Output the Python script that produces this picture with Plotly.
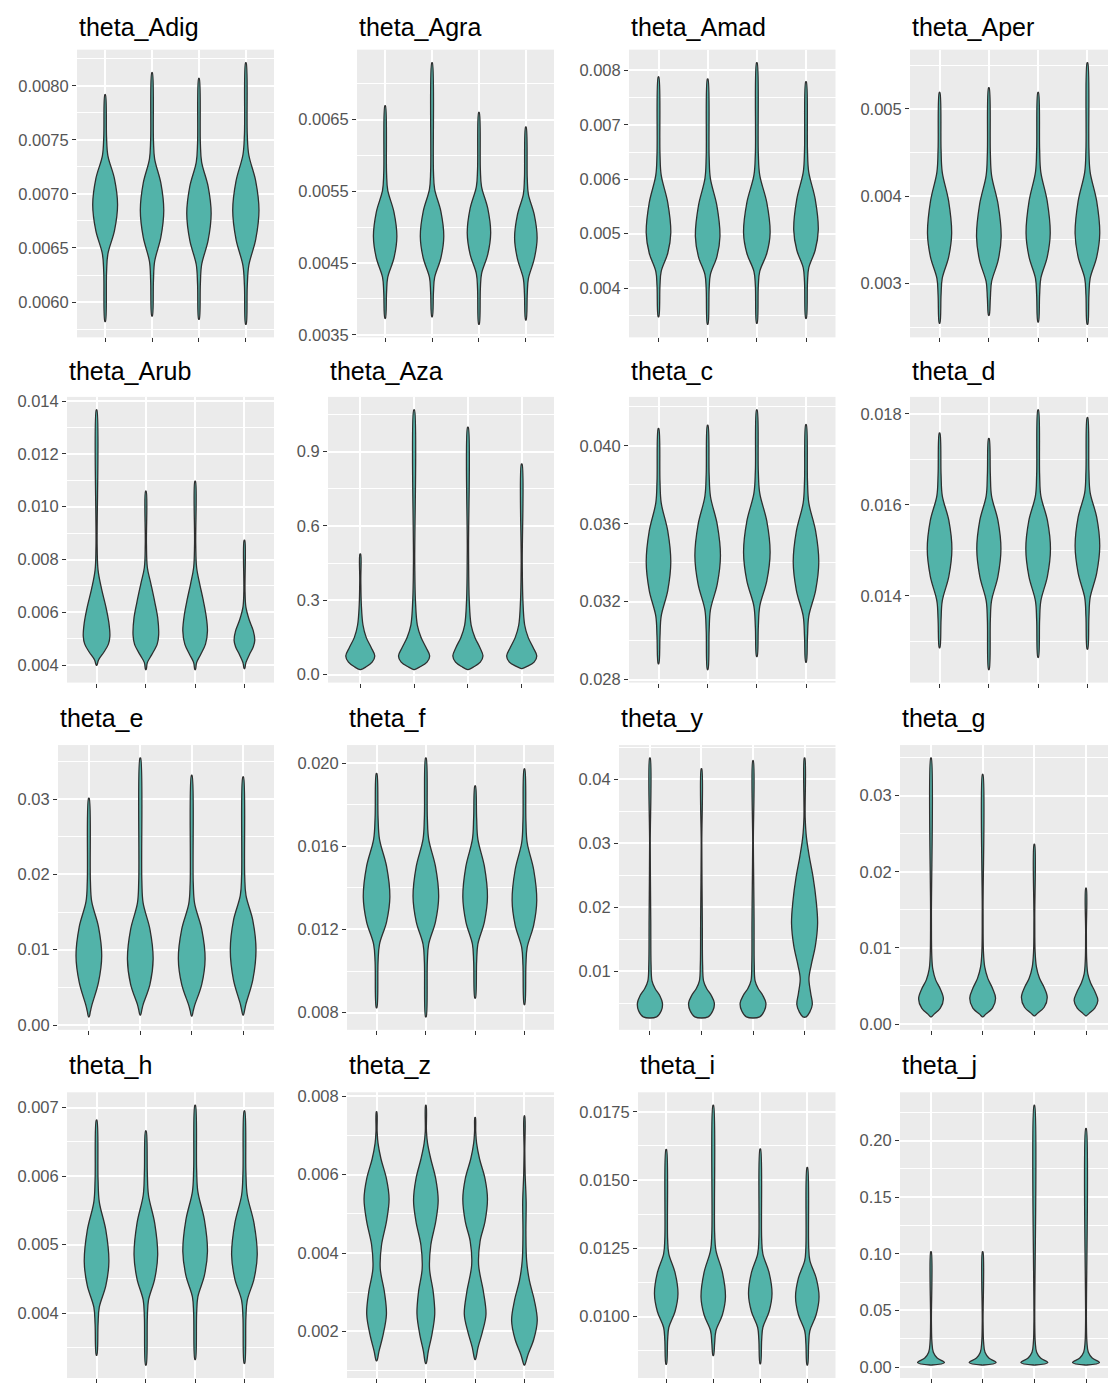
import plotly.graph_objects as go

# ---------------- data ----------------
TITLES = ["theta_Adig", "theta_Agra", "theta_Amad", "theta_Aper",
          "theta_Arub", "theta_Aza", "theta_c", "theta_d",
          "theta_e", "theta_f", "theta_y", "theta_g",
          "theta_h", "theta_z", "theta_i", "theta_j"]

# half-width profiles (category units) read for the unimodal violins
W24 = [0.006, 0.03, 0.053, 0.180, 0.24, 0.180, 0.053, 0.03, 0.006]
W245 = [0.006, 0.03, 0.054, 0.184, 0.245, 0.184, 0.054, 0.03, 0.006]
W25 = [0.006, 0.03, 0.055, 0.188, 0.25, 0.188, 0.055, 0.03, 0.006]
W26 = [0.006, 0.03, 0.057, 0.195, 0.26, 0.195, 0.057, 0.03, 0.006]
W265 = [0.006, 0.03, 0.058, 0.199, 0.265, 0.199, 0.058, 0.03, 0.006]
W27 = [0.006, 0.03, 0.059, 0.203, 0.27, 0.203, 0.059, 0.03, 0.006]
W28 = [0.006, 0.03, 0.062, 0.210, 0.28, 0.210, 0.062, 0.03, 0.006]

ADIG_Y = [[0.005820, 0.006276, 0.006444, 0.006660, 0.006900, 0.007140, 0.007356, 0.007524, 0.007920],
          [0.005871, 0.006200, 0.006375, 0.006600, 0.006850, 0.007100, 0.007325, 0.007500, 0.008123],
          [0.005840, 0.006170, 0.006345, 0.006570, 0.006820, 0.007070, 0.007295, 0.007470, 0.008070],
          [0.005794, 0.006148, 0.006337, 0.006580, 0.006850, 0.007120, 0.007363, 0.007552, 0.008215]]
ADIG_W = [W265, W25, W26, W28]

AGRA_Y = [[0.003729, 0.004090, 0.004300, 0.004570, 0.004870, 0.005210, 0.005516, 0.005754, 0.006692],
          [0.003752, 0.004090, 0.004300, 0.004570, 0.004870, 0.005220, 0.005530, 0.005780, 0.007292],
          [0.003646, 0.004140, 0.004350, 0.004620, 0.004920, 0.005260, 0.005566, 0.005804, 0.006600],
          [0.003706, 0.004070, 0.004280, 0.004560, 0.004850, 0.005170, 0.005460, 0.005680, 0.006395]]
AGRA_W = [W25, W25, W25, W24]

AMAD_Y = [[0.003475, 0.004048, 0.004307, 0.004640, 0.005010, 0.005570, 0.006074, 0.006466, 0.007880],
          [0.003336, 0.003988, 0.004247, 0.004580, 0.004950, 0.005510, 0.006014, 0.006406, 0.007840],
          [0.003355, 0.004048, 0.004307, 0.004640, 0.005010, 0.005570, 0.006074, 0.006466, 0.008140],
          [0.003445, 0.004108, 0.004367, 0.004700, 0.005070, 0.005630, 0.006134, 0.006526, 0.007790]]
AMAD_W = [W25, W25, W27, W25]

APER_Y = [[0.002547, 0.002872, 0.003061, 0.003304, 0.003574, 0.003944, 0.004277, 0.004536, 0.005189],
          [0.002638, 0.002834, 0.003023, 0.003266, 0.003536, 0.003906, 0.004239, 0.004498, 0.005242],
          [0.002562, 0.002872, 0.003061, 0.003304, 0.003574, 0.003944, 0.004277, 0.004536, 0.005189],
          [0.002536, 0.002872, 0.003061, 0.003304, 0.003574, 0.003944, 0.004277, 0.004536, 0.005528]]
APER_W = [W245, W25, W245, W25]

ARUB_Y = [[0.004000, 0.0042, 0.0045, 0.0048, 0.0051, 0.0056, 0.0062, 0.0069, 0.0076, 0.0085, 0.013665],
          [0.003835, 0.0041, 0.0044, 0.0048, 0.00515, 0.0058, 0.0064, 0.0071, 0.0077, 0.0086, 0.010590],
          [0.003835, 0.0041, 0.0044, 0.0048, 0.0053, 0.0059, 0.0065, 0.0071, 0.0077, 0.0086, 0.010960],
          [0.003872, 0.0041, 0.0044, 0.0047, 0.00495, 0.0053, 0.0057, 0.0062, 0.0068, 0.008730]]
ARUB_W = [[0.006, 0.04, 0.15, 0.24, 0.27, 0.25, 0.19, 0.10, 0.03, 0.012, 0.006],
          [0.006, 0.03, 0.12, 0.23, 0.26, 0.24, 0.18, 0.10, 0.03, 0.012, 0.006],
          [0.006, 0.03, 0.11, 0.21, 0.25, 0.22, 0.16, 0.09, 0.03, 0.012, 0.006],
          [0.006, 0.03, 0.10, 0.18, 0.21, 0.18, 0.10, 0.03, 0.012, 0.006]]

AZA_Y = [[0.0199, 0.030, 0.050, 0.075, 0.110, 0.150, 0.200, 0.280, 0.380, 0.487],
         [0.0199, 0.030, 0.050, 0.075, 0.110, 0.150, 0.200, 0.300, 0.450, 1.069],
         [0.0200, 0.030, 0.050, 0.075, 0.110, 0.150, 0.200, 0.300, 0.500, 0.999],
         [0.0240, 0.033, 0.050, 0.075, 0.110, 0.150, 0.200, 0.300, 0.450, 0.850]]
AZA_W = [[0.006, 0.10, 0.22, 0.27, 0.20, 0.11, 0.050, 0.020, 0.010, 0.006],
         [0.006, 0.10, 0.24, 0.29, 0.22, 0.13, 0.060, 0.025, 0.012, 0.006],
         [0.006, 0.10, 0.23, 0.28, 0.22, 0.13, 0.060, 0.025, 0.012, 0.006],
         [0.006, 0.10, 0.23, 0.28, 0.21, 0.12, 0.055, 0.022, 0.010, 0.006]]

C_Y = [[0.02881, 0.03020, 0.03126, 0.03257, 0.03403, 0.03563, 0.03707, 0.03819, 0.04089],
       [0.02851, 0.03053, 0.03159, 0.03290, 0.03436, 0.03596, 0.03740, 0.03852, 0.04106],
       [0.02918, 0.03070, 0.03176, 0.03307, 0.03453, 0.03613, 0.03757, 0.03869, 0.04185],
       [0.02889, 0.03020, 0.03126, 0.03257, 0.03403, 0.03563, 0.03707, 0.03819, 0.04109]]
C_W = [W25, W26, W27, W26]

D_Y = [[0.01286, 0.01347, 0.01389, 0.01443, 0.01503, 0.01566, 0.01620, 0.01667, 0.01758],
       [0.01238, 0.01347, 0.01389, 0.01443, 0.01503, 0.01566, 0.01620, 0.01667, 0.01746],
       [0.01265, 0.01347, 0.01389, 0.01443, 0.01503, 0.01566, 0.01620, 0.01667, 0.01809],
       [0.01283, 0.01354, 0.01396, 0.01450, 0.01510, 0.01573, 0.01627, 0.01674, 0.01792]]
D_W = [W25, W245, W25, W25]

E_Y = [[0.00108, 0.0018, 0.00255, 0.0057, 0.0092, 0.0130, 0.0164, 0.0191, 0.03010],
       [0.00134, 0.0020, 0.00270, 0.0054, 0.00876, 0.0127, 0.0162, 0.0192, 0.03544],
       [0.00121, 0.0019, 0.00260, 0.0054, 0.0088, 0.0127, 0.0161, 0.0188, 0.03315],
       [0.00134, 0.0020, 0.00280, 0.0060, 0.0100, 0.0139, 0.0172, 0.0198, 0.03293]]
E_W = [W25, W25, W26, W25]

F_Y = [[0.00824, 0.01045, 0.01129, 0.01237, 0.01357, 0.01503, 0.01634, 0.01737, 0.01950],
       [0.00780, 0.01045, 0.01129, 0.01237, 0.01357, 0.01503, 0.01634, 0.01737, 0.02024],
       [0.00870, 0.01045, 0.01129, 0.01237, 0.01357, 0.01503, 0.01634, 0.01737, 0.01890],
       [0.00839, 0.01029, 0.01113, 0.01221, 0.01341, 0.01487, 0.01618, 0.01721, 0.01972]]
F_W = [W27, W26, W25, W25]

Y_Y = [[0.00286, 0.0038, 0.0050, 0.0062, 0.0073, 0.0085, 0.0110, 0.0180, 0.0240, 0.0300, 0.04332],
       [0.00286, 0.0038, 0.0050, 0.0062, 0.0073, 0.0085, 0.0110, 0.0180, 0.0240, 0.0300, 0.04163],
       [0.00286, 0.0038, 0.0050, 0.0062, 0.0073, 0.0085, 0.0110, 0.0180, 0.0250, 0.0300, 0.04291],
       [0.00286, 0.0036, 0.0048, 0.0065, 0.0088, 0.0110, 0.0140, 0.0175, 0.0210, 0.0247, 0.0280, 0.0310, 0.0340, 0.04332]]
Y_W = [[0.13, 0.22, 0.243, 0.19, 0.10, 0.040, 0.022, 0.016, 0.010, 0.006, 0.005],
       [0.13, 0.22, 0.25, 0.19, 0.10, 0.040, 0.022, 0.016, 0.010, 0.006, 0.005],
       [0.13, 0.22, 0.25, 0.19, 0.10, 0.040, 0.024, 0.020, 0.012, 0.006, 0.005],
       [0.03, 0.10, 0.15, 0.12, 0.085, 0.13, 0.21, 0.253, 0.225, 0.165, 0.09, 0.035, 0.012, 0.005]]

G_Y = [[0.00094, 0.0013, 0.0021, 0.0033, 0.0046, 0.0058, 0.0072, 0.0090, 0.0140, 0.03495],
       [0.00094, 0.0013, 0.0021, 0.0034, 0.0047, 0.0060, 0.0075, 0.0095, 0.0150, 0.03280],
       [0.00107, 0.0014, 0.0022, 0.0035, 0.0048, 0.0060, 0.0075, 0.0095, 0.0140, 0.02363],
       [0.00107, 0.0014, 0.0021, 0.0031, 0.0043, 0.0054, 0.0066, 0.0085, 0.0120, 0.01786]]
G_W = [[0.006, 0.06, 0.18, 0.24, 0.18, 0.09, 0.035, 0.015, 0.008, 0.005],
       [0.006, 0.06, 0.19, 0.25, 0.19, 0.10, 0.040, 0.015, 0.008, 0.005],
       [0.006, 0.06, 0.19, 0.25, 0.19, 0.10, 0.040, 0.015, 0.008, 0.005],
       [0.006, 0.06, 0.17, 0.23, 0.17, 0.09, 0.035, 0.013, 0.007, 0.005]]

H_Y = [[0.003385, 0.003840, 0.004085, 0.004400, 0.004750, 0.005210, 0.005624, 0.005946, 0.006818],
       [0.003241, 0.003940, 0.004185, 0.004500, 0.004850, 0.005310, 0.005724, 0.006046, 0.006660],
       [0.003323, 0.003990, 0.004235, 0.004550, 0.004900, 0.005360, 0.005774, 0.006096, 0.007034],
       [0.003265, 0.003940, 0.004185, 0.004500, 0.004850, 0.005310, 0.005724, 0.006046, 0.006952]]
H_W = [W25, W24, W25, W26]

Z_Y = [[0.001252, 0.0015, 0.0019, 0.00244, 0.0030, 0.0036, 0.0042, 0.0048, 0.00538, 0.0059, 0.0064, 0.0068, 0.0071, 0.007606],
       [0.001185, 0.0015, 0.0019, 0.00244, 0.0030, 0.0036, 0.0042, 0.0048, 0.00534, 0.0059, 0.0064, 0.0068, 0.0071, 0.007770],
       [0.001286, 0.0016, 0.0020, 0.00244, 0.0030, 0.0037, 0.0043, 0.0048, 0.00538, 0.0059, 0.0064, 0.0068, 0.0071, 0.007460],
       [0.001143, 0.0014, 0.0018, 0.00228, 0.0028, 0.0033, 0.0038, 0.0045, 0.0053, 0.0060, 0.0066, 0.007500]]
Z_W = [[0.006, 0.05, 0.13, 0.20, 0.16, 0.075, 0.10, 0.20, 0.254, 0.20, 0.09, 0.030, 0.012, 0.005],
       [0.006, 0.05, 0.12, 0.18, 0.15, 0.075, 0.10, 0.20, 0.25, 0.20, 0.10, 0.035, 0.012, 0.005],
       [0.006, 0.06, 0.15, 0.22, 0.17, 0.070, 0.10, 0.20, 0.25, 0.20, 0.09, 0.030, 0.012, 0.005],
       [0.006, 0.07, 0.19, 0.26, 0.20, 0.10, 0.045, 0.030, 0.035, 0.015, 0.008, 0.005]]

I_Y = [[0.00826, 0.00915, 0.009605, 0.01019, 0.01084, 0.01161, 0.01230, 0.01284, 0.01612],
       [0.00858, 0.00903, 0.009485, 0.01007, 0.01072, 0.01162, 0.01243, 0.01306, 0.01774],
       [0.00828, 0.00915, 0.009605, 0.01019, 0.01084, 0.01161, 0.01230, 0.01284, 0.01614],
       [0.00823, 0.00903, 0.009485, 0.01007, 0.01072, 0.01142, 0.01205, 0.01254, 0.01546]]
I_W = [W25, W26, W25, W25]

J_Y = [[0.0018, 0.0040, 0.0080, 0.0130, 0.0220, 0.0400, 0.1019],
       [0.0018, 0.0040, 0.0080, 0.0130, 0.0220, 0.0400, 0.1019],
       [0.0018, 0.0040, 0.0080, 0.0130, 0.0220, 0.0400, 0.2312],
       [0.0018, 0.0040, 0.0080, 0.0130, 0.0220, 0.0400, 0.2108]]
J_W = [[0.006, 0.26, 0.12, 0.045, 0.018, 0.008, 0.005],
       [0.006, 0.26, 0.12, 0.045, 0.018, 0.008, 0.005],
       [0.006, 0.26, 0.12, 0.045, 0.018, 0.008, 0.005],
       [0.006, 0.26, 0.12, 0.045, 0.018, 0.008, 0.005]]

PANELS = [(ADIG_Y, ADIG_W), (AGRA_Y, AGRA_W), (AMAD_Y, AMAD_W), (APER_Y, APER_W),
          (ARUB_Y, ARUB_W), (AZA_Y, AZA_W), (C_Y, C_W), (D_Y, D_W),
          (E_Y, E_W), (F_Y, F_W), (Y_Y, Y_W), (G_Y, G_W),
          (H_Y, H_W), (Z_Y, Z_W), (I_Y, I_W), (J_Y, J_W)]

TICK_STEP = [0.0005, 0.001, 0.001, 0.001,
             0.002, 0.3, 0.004, 0.002,
             0.01, 0.004, 0.01, 0.01,
             0.001, 0.002, 0.0025, 0.05]
TICK_START = [0, 0.0035, 0, 0,
              0, 0, 0, 0,
              0, 0, 0, 0,
              0, 0, 0, 0]
TICK_FMT = [".4f", ".4f", ".3f", ".3f",
            ".3f", ".1f", ".3f", ".3f",
            ".2f", ".3f", ".2f", ".2f",
            ".3f", ".3f", ".4f", ".2f"]

# ---------------- layout (pixels) ----------------
W, H = 1108, 1387
ROW_TOP = [45, 395, 746, 1096]
ROW_BOT = [335, 683, 1033, 1384]
TITLE_MID = [22, 369, 719, 1068]
COL_RIGHT = [274, 554, 835.5, 1117]
PANEL_LEFT = [[77, 357, 629, 910],
              [67, 328, 629, 910],
              [58, 347, 619, 900],
              [67, 347, 638, 900]]

FILL = "#52B3A9"
EDGE = "#2F2F2F"
FONT = "Liberation Sans, Arial, Helvetica, sans-serif"

fig = go.Figure()
layout = dict(
    width=W, height=H, margin=dict(l=0, r=0, t=0, b=0),
    paper_bgcolor="white", plot_bgcolor="#EBEBEB",
    showlegend=False, font=dict(family=FONT),
    annotations=[],
)

for k, (ys_list, ws_list) in enumerate(PANELS):
    r, c = divmod(k, 4)
    left = PANEL_LEFT[r][c]
    right = COL_RIGHT[c]
    vis_right = min(right, W)
    x_hi = 0.4 + 4.2 * (vis_right - left) / (right - left)
    sfx = "" if k == 0 else str(k + 1)

    lo = min(min(v) for v in ys_list)
    hi = max(max(v) for v in ys_list)
    pad = 0.05 * (hi - lo)

    layout["xaxis" + sfx] = dict(
        domain=[left / W, vis_right / W], range=[0.4, x_hi],
        anchor="y" + sfx, tickvals=[1, 2, 3, 4], showticklabels=False,
        ticks="outside", ticklen=4, tickwidth=1.3, tickcolor="#333333",
        showgrid=True, gridcolor="white", gridwidth=1.5,
        zeroline=False, showline=False, fixedrange=True,
    )
    layout["yaxis" + sfx] = dict(
        domain=[1 - ROW_BOT[r] / H, 1 - ROW_TOP[r] / H],
        range=[lo - pad, hi + pad], anchor="x" + sfx,
        tick0=TICK_START[k], dtick=TICK_STEP[k], tickformat=TICK_FMT[k],
        ticks="outside", ticklen=4, tickwidth=1.3, tickcolor="#333333",
        tickfont=dict(size=16.5, color="#555555", family=FONT),
        showgrid=True, gridcolor="white", gridwidth=1.5,
        minor=dict(dtick=TICK_STEP[k] / 2, tick0=TICK_START[k], showgrid=True,
                   gridcolor="white", gridwidth=0.8, ticks=""),
        zeroline=False, showline=False, fixedrange=True,
    )
    layout["annotations"].append(dict(
        text=TITLES[k], x=left / W, y=1 - TITLE_MID[r] / H,
        xref="paper", yref="paper", xanchor="left", yanchor="middle",
        showarrow=False, font=dict(size=25, color="black", family=FONT),
    ))

    for j, (ys, ws) in enumerate(zip(ys_list, ws_list)):
        cx = j + 1
        xs = [cx + w for w in ws] + [cx - w for w in reversed(ws)] + [cx + ws[0]]
        yy = list(ys) + list(reversed(ys)) + [ys[0]]
        fig.add_trace(go.Scatter(
            x=xs, y=yy, mode="lines", fill="toself", fillcolor=FILL,
            line=dict(color=EDGE, width=1.3, shape="spline", smoothing=1),
            xaxis="x" + sfx, yaxis="y" + sfx, hoverinfo="skip",
        ))

fig.update_layout(**layout)
fig.write_html("out.html")
